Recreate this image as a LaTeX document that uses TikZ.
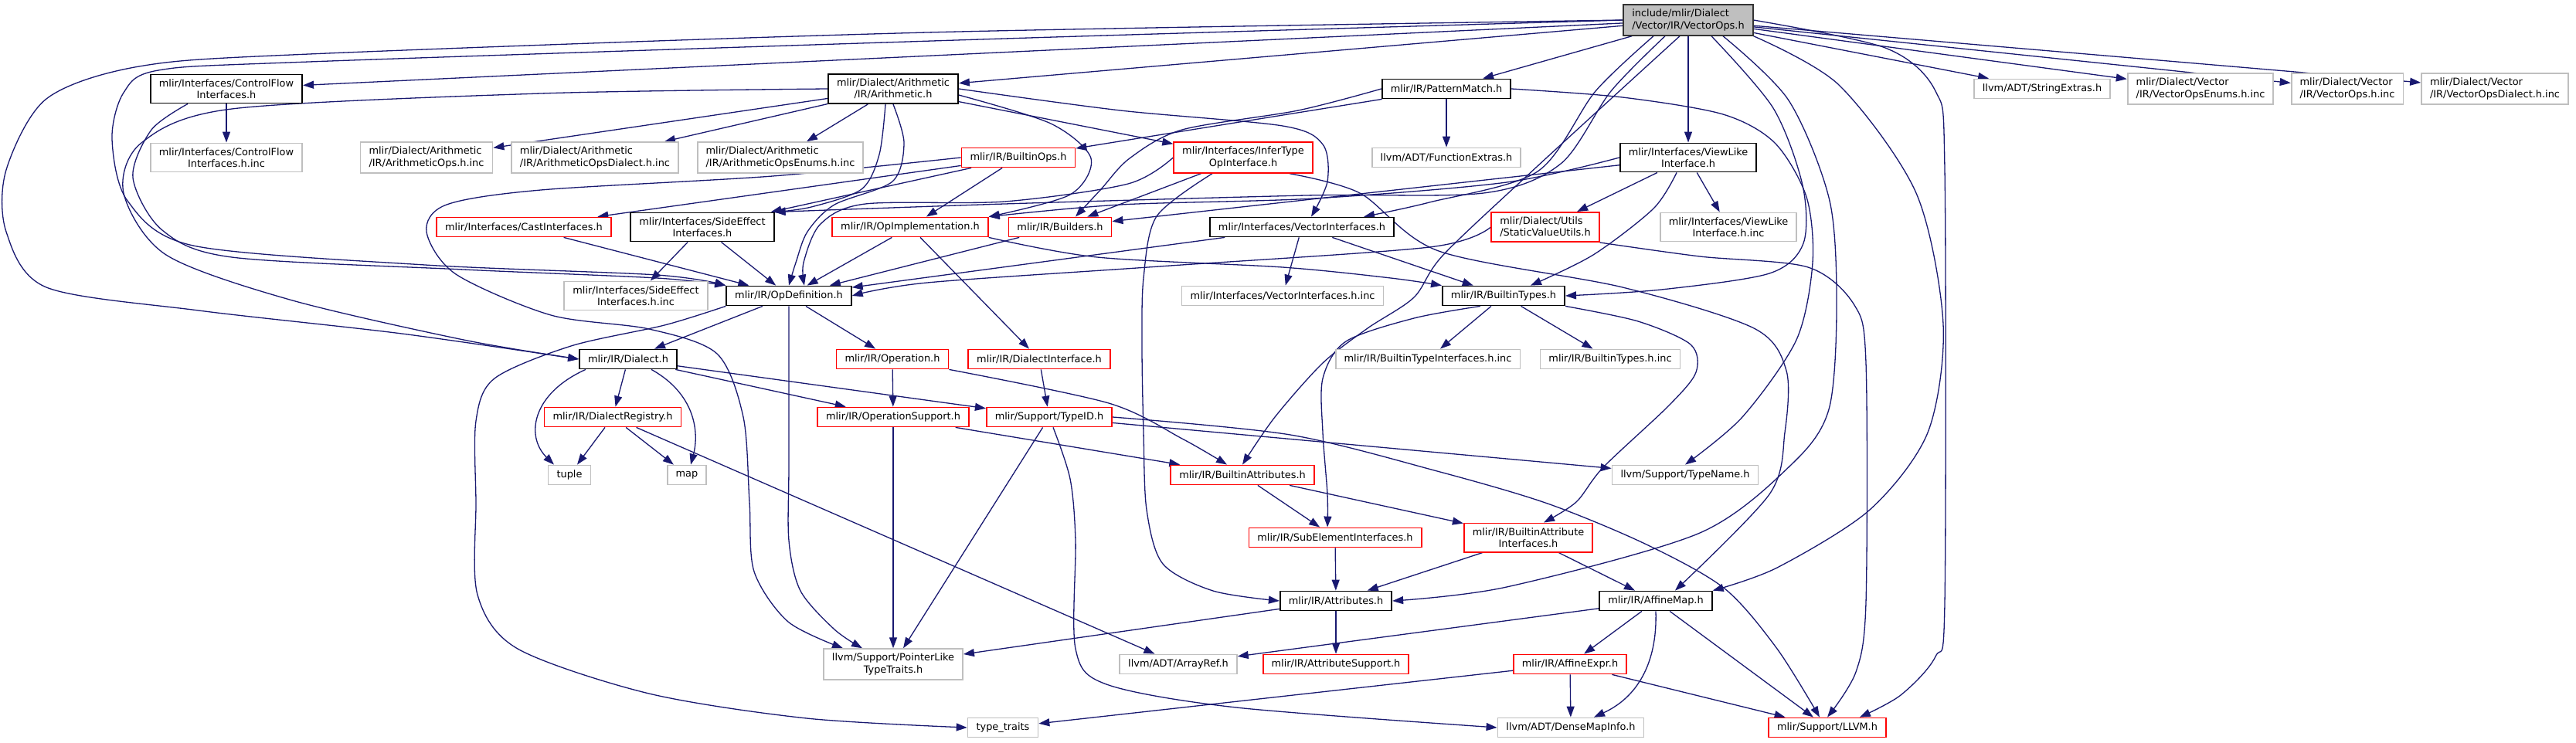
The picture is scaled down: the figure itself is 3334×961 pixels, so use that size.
\documentclass[tikz,border=0pt]{standalone}
\usepackage{fontspec}
\setmainfont{DejaVu Sans}
\usepackage{tikz}
\usetikzlibrary{arrows.meta,backgrounds}
\definecolor{dgblue}{HTML}{191970}
\definecolor{dggray}{HTML}{BFBFBF}
\tikzset{
 dg node/.style={rectangle,fill=white,line width=1.8pt,inner xsep=11pt,inner ysep=6pt,
                 minimum height=25pt,align=center,font=\fontsize{12.9}{15.2}\selectfont},
 dg doc/.style={dg node,draw=black},
 dg trunc/.style={dg node,draw=red},
 dg ext/.style={dg node,draw=dggray},
 dg root/.style={dg node,draw=black!80,fill=dggray},
 dg edge/.style={draw=dgblue,line width=1.3pt,-{Triangle[length=14pt,width=10pt]}}
}

\begin{document}
\begin{tikzpicture}[x=1pt,y=-1pt]
 \useasboundingbox (0,0) rectangle (3334,961);
 % root
 \node[dg root,align=left] (r) at (2185,26) {include/mlir/Dialect\\/Vector/IR/VectorOps.h};
 % first level
 \node[dg doc] (cfi) at (293,115) {mlir/Interfaces/ControlFlow\\Interfaces.h};
 \node[dg doc] (arith) at (1156,115) {mlir/Dialect/Arithmetic\\/IR/Arithmetic.h};
 \node[dg doc] (pm) at (1872,115) {mlir/IR/PatternMatch.h};
 \node[dg ext] (strx) at (2643,115) {llvm/ADT/StringExtras.h};
 \node[dg ext,align=left] (venum) at (2848,115) {mlir/Dialect/Vector\\/IR/VectorOpsEnums.h.inc};
 \node[dg ext,align=left] (vinc) at (3038,115) {mlir/Dialect/Vector\\/IR/VectorOps.h.inc};
 \node[dg ext,align=left] (vdial) at (3229,115) {mlir/Dialect/Vector\\/IR/VectorOpsDialect.h.inc};
 \node[dg ext] (cfiinc) at (293,204) {mlir/Interfaces/ControlFlow\\Interfaces.h.inc};
 \node[dg ext,align=left] (aopsinc) at (552,204) {mlir/Dialect/Arithmetic\\/IR/ArithmeticOps.h.inc};
 \node[dg ext,align=left] (adialinc) at (770,204) {mlir/Dialect/Arithmetic\\/IR/ArithmeticOpsDialect.h.inc};
 \node[dg ext,align=left] (aenuminc) at (1010,204) {mlir/Dialect/Arithmetic\\/IR/ArithmeticOpsEnums.h.inc};
 \node[dg trunc] (bops) at (1318,204) {mlir/IR/BuiltinOps.h};
 \node[dg trunc] (infer) at (1609,204) {mlir/Interfaces/InferType\\OpInterface.h};
 \node[dg ext] (fext) at (1872,204) {llvm/ADT/FunctionExtras.h};
 \node[dg doc] (vli) at (2185,204) {mlir/Interfaces/ViewLike\\Interface.h};
 \node[dg trunc] (cast) at (678,294) {mlir/Interfaces/CastInterfaces.h};
 \node[dg doc] (sei) at (909,294) {mlir/Interfaces/SideEffect\\Interfaces.h};
 \node[dg trunc] (opimpl) at (1178,294) {mlir/IR/OpImplementation.h};
 \node[dg trunc] (build) at (1372,294) {mlir/IR/Builders.h};
 \node[dg doc] (vi) at (1685,294) {mlir/Interfaces/VectorInterfaces.h};
 \node[dg trunc,align=left] (svu) at (2000,294) {mlir/Dialect/Utils\\/StaticValueUtils.h};
 \node[dg ext] (vliinc) at (2237,294) {mlir/Interfaces/ViewLike\\Interface.h.inc};
 \node[dg ext] (seiinc) at (823,383) {mlir/Interfaces/SideEffect\\Interfaces.h.inc};
 \node[dg doc] (opdef) at (1021,383) {mlir/IR/OpDefinition.h};
 \node[dg ext] (viinc) at (1660,383) {mlir/Interfaces/VectorInterfaces.h.inc};
 \node[dg doc] (btypes) at (1946,383) {mlir/IR/BuiltinTypes.h};
 \node[dg doc] (dialect) at (813,465) {mlir/IR/Dialect.h};
 \node[dg trunc] (operation) at (1155,465) {mlir/IR/Operation.h};
 \node[dg trunc] (diface) at (1345,465) {mlir/IR/DialectInterface.h};
 \node[dg ext] (btiinc) at (1848,465) {mlir/IR/BuiltinTypeInterfaces.h.inc};
 \node[dg ext] (btinc) at (2084,465) {mlir/IR/BuiltinTypes.h.inc};
 \node[dg trunc] (dreg) at (793,540) {mlir/IR/DialectRegistry.h};
 \node[dg trunc] (opsup) at (1156,540) {mlir/IR/OperationSupport.h};
 \node[dg trunc] (typeid) at (1358,540) {mlir/Support/TypeID.h};
 \node[dg ext] (tuple) at (737,615) {tuple};
 \node[dg ext] (map) at (889,615) {map};
 \node[dg trunc] (battr) at (1608,615) {mlir/IR/BuiltinAttributes.h};
 \node[dg ext] (typename) at (2181,615) {llvm/Support/TypeName.h};
 \node[dg trunc] (subel) at (1728,696) {mlir/IR/SubElementInterfaces.h};
 \node[dg trunc] (baiface) at (1978,696) {mlir/IR/BuiltinAttribute\\Interfaces.h};
 \node[dg doc] (attrs) at (1729,778) {mlir/IR/Attributes.h};
 \node[dg doc] (amap) at (2143,778) {mlir/IR/AffineMap.h};
 \node[dg ext] (ptrlike) at (1156,860) {llvm/Support/PointerLike\\TypeTraits.h};
 \node[dg ext] (arrayref) at (1525,860) {llvm/ADT/ArrayRef.h};
 \node[dg trunc] (attrsup) at (1729,860) {mlir/IR/AttributeSupport.h};
 \node[dg trunc] (aexpr) at (2032,860) {mlir/IR/AffineExpr.h};
 \node[dg ext] (ttraits) at (1298,942) {type\_traits};
 \node[dg ext] (dense) at (2033,942) {llvm/ADT/DenseMapInfo.h};
 \node[dg trunc] (llvm) at (2365,942) {mlir/Support/LLVM.h};

 \begin{scope}[on background layer]
 % short includes
 \foreach \s/\t in {r/cfi,r/arith,r/pm,r/vli,r/strx,r/venum,r/vinc,r/vdial,
   cfi/cfiinc,arith/aopsinc,arith/adialinc,arith/aenuminc,arith/infer,
   pm/bops,pm/fext,bops/cast,bops/sei,bops/opimpl,infer/build,
   opimpl/opdef,opimpl/diface,build/opdef,cast/opdef,sei/seiinc,sei/opdef,
   vi/opdef,vi/viinc,vi/btypes,vli/svu,vli/vliinc,vli/build,
   btypes/btiinc,btypes/btinc,dialect/dreg,dialect/opsup,dialect/typeid,
   dreg/tuple,dreg/map,dreg/arrayref,opdef/dialect,opdef/operation,
   operation/opsup,diface/typeid,opsup/ptrlike,opsup/battr,
   typeid/ptrlike,typeid/typename,battr/subel,battr/baiface,subel/attrs,
   baiface/attrs,baiface/amap,attrs/ptrlike,attrs/attrsup,amap/arrayref,
   amap/aexpr,amap/llvm,aexpr/ttraits,aexpr/dense,aexpr/llvm}
   {\draw[dg edge] (\s) -- (\t);}

 % long way round on the left
 \draw[dg edge] plot[smooth] coordinates {(r.west) (1200,42) (400,70) (180,86)
   (60,128) (8,220) (8,300) (60,372) (257,402) (520,432) (dialect.west)};
 \draw[dg edge] plot[smooth] coordinates {(r.west) (1300,50) (400,80) (205,91)
   (160,120) (145,180) (165,260) (250,318) (550,343) (850,356) (opdef.north west)};
 \draw[dg edge] plot[smooth] coordinates {([xshift=-50pt]cfi.south) (196,168)
   (172,230) (210,298) (300,333) (600,349) (850,360) (opdef.north west)};
 \draw[dg edge] plot[smooth] coordinates {(arith.west) (700,121) (300,141)
   (183,185) (160,250) (215,330) (375,388) (600,440) (dialect.west)};
 \draw[dg edge] plot[smooth] coordinates {(bops.west) (1000,228) (700,246)
   (578,265) (552,300) (590,355) (713,408) (840,426) (928,458) (962,540)
   (970,650) (976,740) (1020,805) ([xshift=-65pt]ptrlike.north)};
 \draw[dg edge] plot[smooth] coordinates {(opdef.south west) (860,421) (739,448)
   (640,490) (616,545) (616,650) (618,770) (670,840) (840,898) (1044,930)
   (ttraits.west)};

 % middle
 \draw[dg edge] plot[smooth] coordinates {(arith.south) (1170,185) (1155,235)
   (1080,265) (1045,300) (1030,340) (opdef.north)};
 \draw[dg edge] plot[smooth] coordinates {([xshift=-10pt]arith.south) (1138,200)
   (1115,245) (1050,268) (sei.north east)};
 \draw[dg edge] plot[smooth] coordinates {(arith.east) (1450,143) (1660,163)
   (1712,187) (1718,235) ([xshift=12pt]vi.north)};
 \draw[dg edge] plot[smooth] coordinates {([yshift=-8pt]arith.east) (1360,160)
   (1412,205) (1385,252) (opimpl.north east)};
 \draw[dg edge] plot[smooth] coordinates {(pm.west) (1680,143) (1530,168)
   (1462,205) (1425,245) ([xshift=20pt]build.north)};
 \draw[dg edge] plot[smooth] coordinates {(pm.east) (2100,126) (2230,148)
   (2297,185) (2338,255) (2346,340) (2325,440) (2255,540) (typename.north)};
 \draw[dg edge] plot[smooth] coordinates {(infer.west) (1460,238) (1300,261)
   (1120,264) (1062,290) (1040,340) ([xshift=20pt]opdef.north)};
 \draw[dg edge] plot[smooth] coordinates {([xshift=-40pt]infer.south) (1497,280)
   (1480,360) (1478,450) (1480,560) (1484,660) (1505,730) (1570,765) (attrs.west)};
 \draw[dg edge] plot[smooth] coordinates {([xshift=60pt]infer.south) (1760,250)
   (1862,325) (2100,372) (2270,425) (2312,480) (2310,560) (2290,640)
   ([xshift=25pt]amap.north)};
 \draw[dg edge] plot[smooth] coordinates {(opimpl.south east) (1420,333)
   (1660,346) (1800,360) (btypes.north west)};
 \draw[dg edge] plot[smooth] coordinates {([xshift=-15pt]vli.south) (2140,270)
   (2062,330) ([xshift=-45pt]btypes.north east)};
 \draw[dg edge] plot[smooth] coordinates {(vli.west) (1950,236) (1700,257)
   (1450,265) (opimpl.north east)};
 \draw[dg edge] plot[smooth] coordinates {(svu.west) (1850,320) (1500,345)
   (1200,366) (opdef.east)};
 \draw[dg edge] plot[smooth] coordinates {(svu.south east) (2200,332) (2340,346)
   (2400,395) (2415,470) (2415,780) (2402,870) (llvm.north)};

 % from the root downwards
 \draw[dg edge] plot[smooth] coordinates {([xshift=-30pt]r.south) (2085,118)
   (2020,212) (1920,250) (1690,253) (1300,264) (sei.north east)};
 \draw[dg edge] plot[smooth] coordinates {([xshift=-45pt]r.south) (2065,118)
   (1990,222) (1850,262) ([xshift=80pt]vi.north)};
 \draw[dg edge] plot[smooth] coordinates {([xshift=-11pt]r.south) (1990,215)
   (1868,330) (1830,385) (1770,425) (1712,470) (1650,540) (battr.north)};
 \draw[dg edge] plot[smooth] coordinates {([xshift=30pt]r.south) (2295,140)
   (2333,240) (2334,315) (2290,354) (2150,375) (btypes.east)};
 \draw[dg edge] plot[smooth] coordinates {([xshift=45pt]r.south) (2315,130)
   (2368,260) (2377,400) (2367,530) (2320,600) (2200,690) (1950,760) (attrs.east)};
 \draw[dg edge] plot[smooth] coordinates {(r.south east) (2380,110) (2480,250)
   (2515,420) (2495,560) (2420,660) (2300,735) (amap.north east)};
 \draw[dg edge] plot[smooth] coordinates {(r.east) (2440,62) (2505,118)
   (2517,220) (2517,780) (2505,850) (2460,900) ([xshift=-35pt]llvm.north east)};

 % lower part
 \draw[dg edge] plot[smooth] coordinates {([xshift=-30pt]btypes.south) (1830,412)
   (1742,442) (1712,490) (1712,560) (1718,640) ([xshift=-10pt]subel.north)};
 \draw[dg edge] plot[smooth] coordinates {(btypes.south east) (2120,416)
   (2188,446) (2195,482) (2160,525) (2075,605) (2040,650)
   ([xshift=20pt]baiface.north)};
 \draw[dg edge] ([xshift=-55pt]dialect.south) .. controls (688,510) and (680,565)
   .. ([xshift=-20pt]tuple.north);
 \draw[dg edge] ([xshift=30pt]dialect.south) .. controls (900,510) and (905,560)
   .. ([xshift=5pt]map.north);
 \draw[dg edge] plot[smooth] coordinates {(opdef.south) (1021,600) (1021,700)
   (1036,765) (1080,815) ([xshift=-40pt]ptrlike.north)};
 \draw[dg edge] plot[smooth] coordinates {(operation.south east) (1435,522)
   (1530,568) ([xshift=-20pt]battr.north)};
 \draw[dg edge] plot[smooth] coordinates {(typeid.east) (1670,563) (1860,610)
   (2003,652) (2131,705) (2232,762) (2300,840) ([xshift=-10pt]llvm.north)};
 \draw[dg edge] plot[smooth] coordinates {([xshift=5pt]typeid.south) (1385,620)
   (1392,700) (1392,840) (1432,886) (1600,916) (dense.west)};
 \draw[dg edge] (amap.south) .. controls (2145,850) and (2125,900)
   .. ([xshift=30pt]dense.north);
 \end{scope}
\end{tikzpicture}
\end{document}
